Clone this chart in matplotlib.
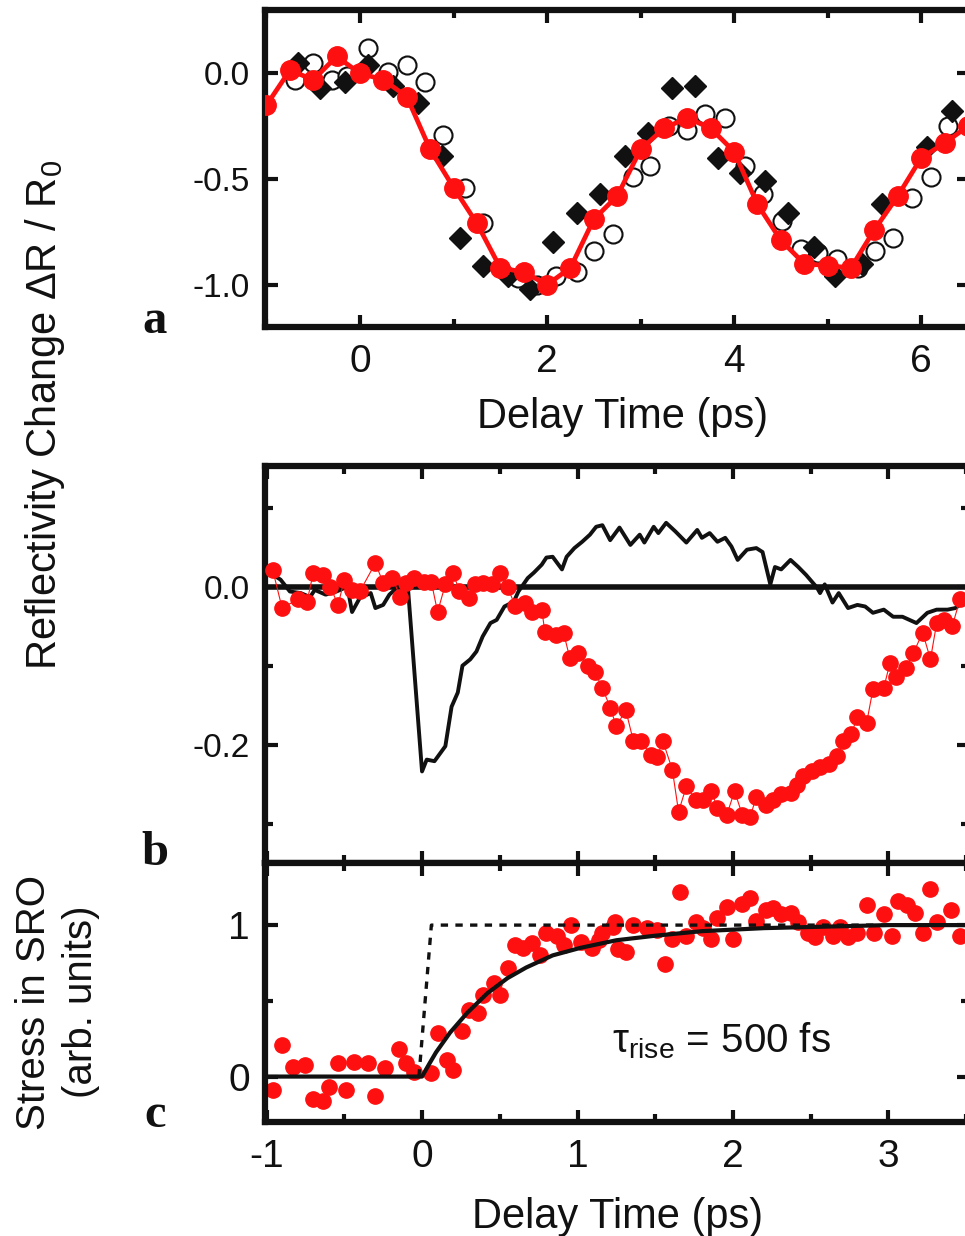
import matplotlib
matplotlib.use('Agg')
import matplotlib.pyplot as plt
from matplotlib.ticker import MultipleLocator, FormatStrFormatter

plt.rcParams['font.family'] = ['Liberation Sans', 'DejaVu Sans']
plt.rcParams['mathtext.fontset'] = 'custom'
plt.rcParams['mathtext.rm'] = 'Liberation Sans'
plt.rcParams['mathtext.it'] = 'Liberation Sans:italic'
plt.rcParams['axes.unicode_minus'] = False

# ---------------- Panel a data ----------------
a_red_t = [-1.0, -0.75, -0.5, -0.25, 0.0, 0.25, 0.5, 0.75, 1.0, 1.25, 1.5, 1.75, 2.0, 2.25, 2.5, 2.75,
           3.0, 3.25, 3.5, 3.75, 4.0, 4.25, 4.5, 4.75, 5.0, 5.25, 5.5, 5.75, 6.0, 6.25, 6.5]
a_red_v = [-0.15, 0.015, -0.03, 0.08, 0.0, -0.03, -0.11, -0.36, -0.54, -0.71, -0.92, -0.94, -1.0, -0.92,
           -0.69, -0.58, -0.36, -0.26, -0.21, -0.26, -0.37, -0.62, -0.79, -0.90, -0.91, -0.92, -0.74,
           -0.58, -0.40, -0.33, -0.25]
a_dia_t = [-0.66, -0.43, -0.16, 0.09, 0.35, 0.62, 0.88, 1.07, 1.32, 1.58, 1.82, 2.06, 2.32, 2.57, 2.83,
           3.08, 3.34, 3.58, 3.83, 4.06, 4.33, 4.58, 4.85, 5.08, 5.37, 5.58, 6.06, 6.33]
a_dia_v = [0.05, -0.07, -0.04, 0.04, -0.06, -0.14, -0.39, -0.78, -0.91, -0.96, -1.02, -0.80, -0.66, -0.57,
           -0.39, -0.28, -0.07, -0.06, -0.40, -0.47, -0.51, -0.66, -0.82, -0.96, -0.90, -0.62, -0.35, -0.18]
a_open_t = [-0.69, -0.5, -0.30, -0.14, 0.09, 0.30, 0.50, 0.69, 0.89, 1.12, 1.31, 1.69, 1.89, 2.1, 2.32,
            2.5, 2.7, 2.92, 3.10, 3.30, 3.50, 3.69, 3.9, 4.12, 4.31, 4.51, 4.71, 4.90, 5.10, 5.32, 5.51,
            5.70, 5.90, 6.10, 6.29]
a_open_v = [-0.03, 0.05, -0.03, -0.01, 0.12, 0.005, 0.04, -0.04, -0.29, -0.54, -0.71, -0.97, -1.0, -0.96,
            -0.94, -0.84, -0.76, -0.49, -0.44, -0.25, -0.27, -0.19, -0.21, -0.44, -0.57, -0.70, -0.83,
            -0.85, -0.88, -0.92, -0.84, -0.78, -0.59, -0.49, -0.25]

# ---------------- Panel b data ----------------
b_line_t = [-0.98, -0.91, -0.85, -0.78, -0.72, -0.69, -0.62, -0.55, -0.48, -0.45, -0.40, -0.33, -0.30,
            -0.25, -0.21, -0.16, -0.10, -0.09, 0.0, 0.03, 0.08, 0.15, 0.19, 0.23, 0.26, 0.31, 0.35, 0.39,
            0.44, 0.48, 0.53, 0.59, 0.62, 0.68, 0.72, 0.77, 0.80, 0.84, 0.90, 0.93, 0.98, 1.03, 1.08,
            1.12, 1.16, 1.21, 1.27, 1.34, 1.40, 1.43, 1.49, 1.52, 1.57, 1.63, 1.70, 1.77, 1.80, 1.85,
            1.90, 1.95, 1.99, 2.03, 2.09, 2.15, 2.19, 2.24, 2.27, 2.31, 2.37, 2.42, 2.47, 2.54, 2.56,
            2.59, 2.64, 2.68, 2.74, 2.80, 2.85, 2.90, 2.97, 3.03, 3.09, 3.18, 3.25, 3.31, 3.38, 3.43, 3.48]
b_line_v = [0.018, 0.009, -0.006, -0.008, -0.013, -0.004, -0.010, -0.006, 0.0, -0.032, -0.014, -0.008,
            -0.027, -0.023, -0.010, -0.001, -0.001, -0.003, -0.234, -0.219, -0.221, -0.202, -0.152,
            -0.134, -0.100, -0.092, -0.082, -0.063, -0.046, -0.042, -0.025, -0.019, -0.006, 0.011,
            0.018, 0.028, 0.037, 0.038, 0.022, 0.038, 0.049, 0.057, 0.066, 0.076, 0.078, 0.059, 0.075,
            0.053, 0.066, 0.056, 0.076, 0.068, 0.081, 0.070, 0.056, 0.072, 0.062, 0.068, 0.057, 0.062,
            0.051, 0.034, 0.047, 0.049, 0.044, 0.003, 0.025, 0.022, 0.034, 0.025, 0.015, -0.001,
            -0.008, 0.003, -0.020, -0.008, -0.027, -0.023, -0.025, -0.033, -0.029, -0.038, -0.038,
            -0.046, -0.033, -0.029, -0.029, -0.027, -0.020]
b_red_t = [-0.96, -0.90, -0.80, -0.74, -0.70, -0.64, -0.59, -0.54, -0.50, -0.45, -0.40, -0.30, -0.25,
           -0.19, -0.14, -0.10, -0.05, 0.01, 0.06, 0.10, 0.15, 0.20, 0.24, 0.30, 0.34, 0.39, 0.45, 0.50,
           0.55, 0.60, 0.66, 0.71, 0.77, 0.79, 0.86, 0.91, 0.95, 1.00, 1.07, 1.11, 1.16, 1.21, 1.25,
           1.31, 1.36, 1.41, 1.47, 1.51, 1.55, 1.61, 1.65, 1.70, 1.76, 1.81, 1.86, 1.90, 1.96, 2.01,
           2.06, 2.11, 2.15, 2.21, 2.26, 2.31, 2.37, 2.41, 2.45, 2.51, 2.56, 2.62, 2.67, 2.71, 2.76,
           2.80, 2.86, 2.90, 2.97, 3.01, 3.05, 3.11, 3.16, 3.22, 3.27, 3.31, 3.36, 3.41, 3.46]
b_red_v = [0.021, -0.027, -0.016, -0.019, 0.017, 0.015, 0.0, -0.023, 0.009, -0.004, -0.006, 0.030,
           0.005, 0.011, -0.013, 0.005, 0.011, 0.006, 0.006, -0.032, 0.003, 0.018, -0.006, -0.014,
           0.003, 0.005, 0.003, 0.018, 0.0, -0.025, -0.020, -0.032, -0.029, -0.057, -0.061, -0.058,
           -0.090, -0.084, -0.100, -0.108, -0.128, -0.153, -0.177, -0.156, -0.196, -0.196, -0.213,
           -0.216, -0.196, -0.232, -0.285, -0.253, -0.270, -0.270, -0.259, -0.280, -0.289, -0.259,
           -0.289, -0.292, -0.266, -0.276, -0.270, -0.263, -0.261, -0.251, -0.240, -0.234, -0.229,
           -0.225, -0.215, -0.196, -0.187, -0.165, -0.172, -0.130, -0.128, -0.096, -0.114, -0.103,
           -0.084, -0.058, -0.092, -0.046, -0.042, -0.050, -0.016]

# ---------------- Panel c data ----------------
c_red_t = [-0.96, -0.90, -0.83, -0.75, -0.70, -0.64, -0.60, -0.54, -0.49, -0.44, -0.35, -0.30, -0.24,
           -0.15, -0.10, -0.05, 0.06, 0.10, 0.16, 0.20, 0.26, 0.30, 0.36, 0.39, 0.46, 0.50, 0.55, 0.60,
           0.65, 0.71, 0.76, 0.80, 0.87, 0.91, 0.96, 1.02, 1.09, 1.14, 1.16, 1.23, 1.24, 1.26, 1.31,
           1.36, 1.45, 1.51, 1.56, 1.61, 1.66, 1.70, 1.76, 1.81, 1.86, 1.90, 1.96, 2.00, 2.06, 2.11,
           2.15, 2.21, 2.26, 2.31, 2.37, 2.42, 2.48, 2.53, 2.58, 2.64, 2.69, 2.74, 2.80, 2.86, 2.91,
           2.97, 3.02, 3.06, 3.12, 3.17, 3.22, 3.27, 3.31, 3.40, 3.46]
c_red_v = [-0.086, 0.21, 0.066, 0.079, -0.15, -0.16, -0.072, 0.092, -0.086, 0.099, 0.092, -0.13, 0.059,
           0.18, 0.092, 0.033, 0.026, 0.29, 0.11, 0.046, 0.30, 0.44, 0.42, 0.54, 0.62, 0.54, 0.72, 0.87,
           0.85, 0.88, 0.80, 0.95, 0.93, 0.87, 1.00, 0.89, 0.85, 0.90, 0.95, 0.99, 1.02, 0.84, 0.82,
           1.00, 0.98, 0.97, 0.74, 0.91, 1.22, 0.93, 1.02, 0.98, 0.91, 1.05, 1.12, 0.91, 1.14, 1.18,
           1.03, 1.10, 1.11, 1.07, 1.08, 1.02, 0.95, 0.92, 0.99, 0.93, 0.99, 0.92, 0.95, 1.13, 0.95,
           1.07, 0.93, 1.16, 1.13, 1.08, 0.95, 1.24, 1.02, 1.10, 0.93]
c_fit_t = [-1.01, 0.0, 0.05, 0.09, 0.18, 0.29, 0.42, 0.55, 0.67, 0.84, 1.02, 1.25, 1.5, 1.8, 2.2, 2.6, 3.0, 3.52]
c_fit_v = [0.0, 0.0, 0.09, 0.16, 0.29, 0.42, 0.55, 0.65, 0.72, 0.80, 0.85, 0.90, 0.93, 0.96, 0.98, 0.99, 1.0, 1.0]
c_step_t = [-0.02, 0.06, 3.52]
c_step_v = [0.0, 1.0, 1.0]

RED = '#ff1010'
INK = '#111111'

W, H = 965, 1236
fig = plt.figure(figsize=(W / 100, H / 100), dpi=100)
L = 265 / W
R = 1.004
axa = fig.add_axes([L, 1 - 327 / H, R - L, (327 - 10) / H])
axb = fig.add_axes([L, 1 - 863 / H, R - L, (863 - 466) / H])
axc = fig.add_axes([L, 1 - 1122 / H, R - L, (1122 - 863) / H])


def style(ax, xs, ys):
    for s in ax.spines.values():
        s.set_linewidth(4.5)
        s.set_color(INK)
    ax.tick_params(which='both', direction='in', top=True, right=True, width=3, color=INK)
    ax.tick_params(which='major', length=9)
    ax.tick_params(which='minor', length=6)
    ax.tick_params(axis='x', labelsize=xs, pad=12, labelcolor=INK)
    ax.tick_params(axis='y', labelsize=ys, pad=11, labelcolor=INK)


# ---- a ----
axa.plot(a_open_t, a_open_v, linestyle='none', marker='o', ms=13, mfc='white', mec=INK, mew=1.5, zorder=2)
axa.plot(a_dia_t, a_dia_v, linestyle='none', marker='D', ms=11, mfc=INK, mec=INK, zorder=3)
axa.plot(a_red_t, a_red_v, color=RED, lw=3.4, marker='o', ms=14, mfc=RED, mec=RED, zorder=4)
axa.set_xlim(-1.016, 6.51)
axa.set_ylim(-1.2, 0.3)
axa.xaxis.set_major_locator(MultipleLocator(2))
axa.xaxis.set_minor_locator(MultipleLocator(1))
axa.yaxis.set_major_locator(MultipleLocator(0.5))
axa.yaxis.set_major_formatter(FormatStrFormatter('%.1f'))
style(axa, 28, 24)

# ---- b ----
axb.axhline(0, color=INK, lw=4, zorder=2)
axb.plot(b_line_t, b_line_v, color=INK, lw=2.8, zorder=2)
axb.plot(b_red_t, b_red_v, color=RED, lw=0.8, marker='o', ms=11, mfc=RED, mec=RED, zorder=3)
axb.set_xlim(-1.01, 3.517)
axb.set_ylim(-0.35, 0.153)
axb.xaxis.set_major_locator(MultipleLocator(1))
axb.xaxis.set_minor_locator(MultipleLocator(0.5))
axb.yaxis.set_major_locator(MultipleLocator(0.2))
axb.yaxis.set_minor_locator(MultipleLocator(0.1))
axb.yaxis.set_major_formatter(FormatStrFormatter('%.1f'))
style(axb, 28, 24)
axb.tick_params(axis='x', labelbottom=False)

# ---- c ----
axc.plot(c_red_t, c_red_v, linestyle='none', marker='o', ms=11, mfc=RED, mec=RED, zorder=2)
axc.plot(c_step_t, c_step_v, color=INK, lw=2.4, linestyle=(0, (2.2, 2.2)), zorder=3)
axc.plot(c_fit_t, c_fit_v, color=INK, lw=3, zorder=3)
axc.set_xlim(-1.01, 3.517)
axc.set_ylim(-0.3, 1.41)
axc.xaxis.set_major_locator(MultipleLocator(1))
axc.xaxis.set_minor_locator(MultipleLocator(0.5))
axc.yaxis.set_major_locator(MultipleLocator(1))
axc.yaxis.set_minor_locator(MultipleLocator(0.5))
style(axc, 28, 28)
axc.text(1.22, 0.16, r'$\mathregular{\tau_{rise}}$ = 500 fs', fontsize=29, color=INK, va='baseline')

# ---- labels ----
fig.text(623 / W, 1 - 428 / H, 'Delay Time (ps)', fontsize=30, ha='center', va='baseline', color=INK)
fig.text(618 / W, 1 - 1228 / H, 'Delay Time (ps)', fontsize=30, ha='center', va='baseline', color=INK)
fig.text(45 / W, 1 - 415 / H, r'Reflectivity Change $\mathregular{\Delta R\ /\ R_0}$', fontsize=30,
         rotation=90, ha='center', va='center', color=INK)
fig.text(58 / W, 1 - 1002 / H, 'Stress in SRO\n(arb. units)', fontsize=29, rotation=90,
         ha='center', va='center', multialignment='center', linespacing=1.3, color=INK)
for lab, yb in (('a', 333), ('b', 865), ('c', 1127)):
    fig.text(155 / W, 1 - yb / H, lab, fontsize=35, fontweight='bold', family='Liberation Serif',
             ha='center', va='baseline', color=INK)

fig.savefig('out.png', dpi=100)
